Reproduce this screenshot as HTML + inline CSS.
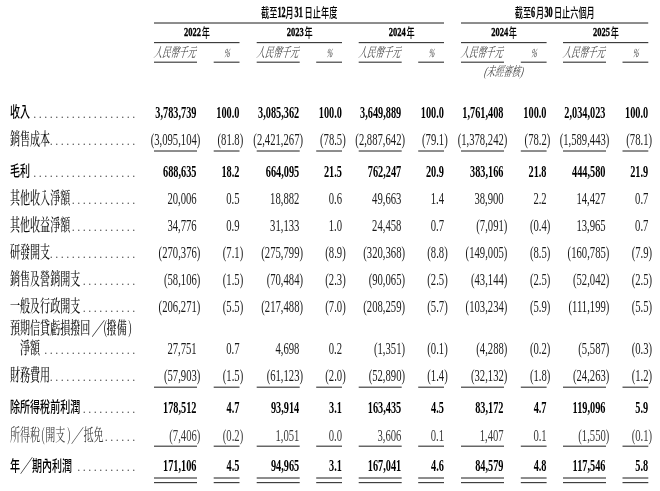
<!DOCTYPE html>
<html><head><meta charset="utf-8"><style>
html,body{margin:0;padding:0;background:#fff;}
body{width:660px;height:491px;overflow:hidden;}
svg{display:block;filter:blur(0.3px);}
text{font-family:"Liberation Serif","Noto Serif CJK TC",serif;fill:#1a1a1a;}
.n{font-size:16.8px;}
.b{font-weight:bold;fill:#000;}
.cb{font-family:"Liberation Serif","Noto Sans CJK TC",sans-serif;font-weight:500;fill:#000;}
.r{font-family:"Noto Serif CJK TC","Liberation Serif",serif;font-weight:500;fill:#111;}
.i{font-style:italic;}
.hb{stroke:#000;stroke-width:0.5px;}
.hy{stroke:#000;stroke-width:0.35px;}
.it{fill:#444;}
.dt{font-family:"Liberation Serif",serif;font-size:12px;letter-spacing:2.5px;fill:#555;}
.hc{font-family:"Noto Sans CJK TC",sans-serif;font-weight:500;fill:#000;}
</style></head><body>
<svg width="660" height="491" viewBox="0 0 660 491" xmlns="http://www.w3.org/2000/svg">
<rect x="154" y="22.43" width="290" height="1.15" fill="#3a3a3a"/>
<rect x="461" y="22.43" width="187.2" height="1.15" fill="#3a3a3a"/>
<rect x="154.0" y="42.02" width="85.5" height="1.15" fill="#3a3a3a"/>
<rect x="256.7" y="42.02" width="85.3" height="1.15" fill="#3a3a3a"/>
<rect x="358.7" y="42.02" width="85.3" height="1.15" fill="#3a3a3a"/>
<rect x="461.0" y="42.02" width="85.6" height="1.15" fill="#3a3a3a"/>
<rect x="563.0" y="42.02" width="85.3" height="1.15" fill="#3a3a3a"/>
<rect x="154.0" y="61.62" width="43.0" height="1.15" fill="#3a3a3a"/>
<rect x="213.7" y="61.62" width="25.8" height="1.15" fill="#3a3a3a"/>
<rect x="256.7" y="61.62" width="43.0" height="1.15" fill="#3a3a3a"/>
<rect x="316.2" y="61.62" width="25.8" height="1.15" fill="#3a3a3a"/>
<rect x="358.7" y="61.62" width="43.0" height="1.15" fill="#3a3a3a"/>
<rect x="418.2" y="61.62" width="25.8" height="1.15" fill="#3a3a3a"/>
<rect x="461.0" y="61.62" width="43.0" height="1.15" fill="#3a3a3a"/>
<rect x="520.8" y="61.62" width="25.8" height="1.15" fill="#3a3a3a"/>
<rect x="563.0" y="61.62" width="43.0" height="1.15" fill="#3a3a3a"/>
<rect x="622.5" y="61.62" width="25.8" height="1.15" fill="#3a3a3a"/>
<rect x="154.0" y="150.43" width="43.0" height="1.15" fill="#3a3a3a"/>
<rect x="213.7" y="150.43" width="25.8" height="1.15" fill="#3a3a3a"/>
<rect x="256.7" y="150.43" width="43.0" height="1.15" fill="#3a3a3a"/>
<rect x="316.2" y="150.43" width="25.8" height="1.15" fill="#3a3a3a"/>
<rect x="358.7" y="150.43" width="43.0" height="1.15" fill="#3a3a3a"/>
<rect x="418.2" y="150.43" width="25.8" height="1.15" fill="#3a3a3a"/>
<rect x="461.0" y="150.43" width="43.0" height="1.15" fill="#3a3a3a"/>
<rect x="520.8" y="150.43" width="25.8" height="1.15" fill="#3a3a3a"/>
<rect x="563.0" y="150.43" width="43.0" height="1.15" fill="#3a3a3a"/>
<rect x="622.5" y="150.43" width="25.8" height="1.15" fill="#3a3a3a"/>
<rect x="154.0" y="386.62" width="43.0" height="1.15" fill="#3a3a3a"/>
<rect x="213.7" y="386.62" width="25.8" height="1.15" fill="#3a3a3a"/>
<rect x="256.7" y="386.62" width="43.0" height="1.15" fill="#3a3a3a"/>
<rect x="316.2" y="386.62" width="25.8" height="1.15" fill="#3a3a3a"/>
<rect x="358.7" y="386.62" width="43.0" height="1.15" fill="#3a3a3a"/>
<rect x="418.2" y="386.62" width="25.8" height="1.15" fill="#3a3a3a"/>
<rect x="461.0" y="386.62" width="43.0" height="1.15" fill="#3a3a3a"/>
<rect x="520.8" y="386.62" width="25.8" height="1.15" fill="#3a3a3a"/>
<rect x="563.0" y="386.62" width="43.0" height="1.15" fill="#3a3a3a"/>
<rect x="622.5" y="386.62" width="25.8" height="1.15" fill="#3a3a3a"/>
<rect x="154.0" y="445.62" width="43.0" height="1.15" fill="#3a3a3a"/>
<rect x="213.7" y="445.62" width="25.8" height="1.15" fill="#3a3a3a"/>
<rect x="256.7" y="445.62" width="43.0" height="1.15" fill="#3a3a3a"/>
<rect x="316.2" y="445.62" width="25.8" height="1.15" fill="#3a3a3a"/>
<rect x="358.7" y="445.62" width="43.0" height="1.15" fill="#3a3a3a"/>
<rect x="418.2" y="445.62" width="25.8" height="1.15" fill="#3a3a3a"/>
<rect x="461.0" y="445.62" width="43.0" height="1.15" fill="#3a3a3a"/>
<rect x="520.8" y="445.62" width="25.8" height="1.15" fill="#3a3a3a"/>
<rect x="563.0" y="445.62" width="43.0" height="1.15" fill="#3a3a3a"/>
<rect x="622.5" y="445.62" width="25.8" height="1.15" fill="#3a3a3a"/>
<rect x="154.0" y="477.43" width="43.0" height="1.15" fill="#3a3a3a"/>
<rect x="213.7" y="477.43" width="25.8" height="1.15" fill="#3a3a3a"/>
<rect x="256.7" y="477.43" width="43.0" height="1.15" fill="#3a3a3a"/>
<rect x="316.2" y="477.43" width="25.8" height="1.15" fill="#3a3a3a"/>
<rect x="358.7" y="477.43" width="43.0" height="1.15" fill="#3a3a3a"/>
<rect x="418.2" y="477.43" width="25.8" height="1.15" fill="#3a3a3a"/>
<rect x="461.0" y="477.43" width="43.0" height="1.15" fill="#3a3a3a"/>
<rect x="520.8" y="477.43" width="25.8" height="1.15" fill="#3a3a3a"/>
<rect x="563.0" y="477.43" width="43.0" height="1.15" fill="#3a3a3a"/>
<rect x="622.5" y="477.43" width="25.8" height="1.15" fill="#3a3a3a"/>
<rect x="154.0" y="482.03" width="43.0" height="1.15" fill="#3a3a3a"/>
<rect x="213.7" y="482.03" width="25.8" height="1.15" fill="#3a3a3a"/>
<rect x="256.7" y="482.03" width="43.0" height="1.15" fill="#3a3a3a"/>
<rect x="316.2" y="482.03" width="25.8" height="1.15" fill="#3a3a3a"/>
<rect x="358.7" y="482.03" width="43.0" height="1.15" fill="#3a3a3a"/>
<rect x="418.2" y="482.03" width="25.8" height="1.15" fill="#3a3a3a"/>
<rect x="461.0" y="482.03" width="43.0" height="1.15" fill="#3a3a3a"/>
<rect x="520.8" y="482.03" width="25.8" height="1.15" fill="#3a3a3a"/>
<rect x="563.0" y="482.03" width="43.0" height="1.15" fill="#3a3a3a"/>
<rect x="622.5" y="482.03" width="25.8" height="1.15" fill="#3a3a3a"/>
<text transform="translate(261.0 0) scale(0.65 1)" y="17.3" class="hc" font-size="12.6">截至</text>
<text transform="translate(277.4 0) scale(0.55 1)" y="17.3" class="b hb" font-size="14.8">12</text>
<text transform="translate(285.6 0) scale(0.65 1)" y="17.3" class="hc" font-size="12.6">月</text>
<text transform="translate(294.6 0) scale(0.55 1)" y="17.3" class="b hb" font-size="14.8">31</text>
<text transform="translate(304.6 0) scale(0.65 1)" y="17.3" class="hc" font-size="12.6">日止年度</text>
<text transform="translate(514.8 0) scale(0.65 1)" y="17.3" class="hc" font-size="12.6">截至</text>
<text transform="translate(531.0 0) scale(0.55 1)" y="17.3" class="b hb" font-size="14.8">6</text>
<text transform="translate(535.9 0) scale(0.65 1)" y="17.3" class="hc" font-size="12.6">月</text>
<text transform="translate(544.4 0) scale(0.55 1)" y="17.3" class="b hb" font-size="14.8">30</text>
<text transform="translate(553.9 0) scale(0.65 1)" y="17.3" class="hc" font-size="12.6">日止六個月</text>
<text transform="translate(184.1 0) scale(0.64 1)" y="36.4" class="b hy" font-size="13.3">2022</text>
<text transform="translate(201.8 0) scale(0.65 1)" y="37.3" class="hc" font-size="12.6">年</text>
<text transform="translate(153.5 56.6) scale(0.635 1) skewX(-26)" class="it" font-size="13.2">人民幣千元</text>
<text transform="translate(226.4 56.5) scale(0.56525 1) skewX(-26)" text-anchor="middle" class="it" font-size="12.6">%</text>
<text transform="translate(286.7 0) scale(0.64 1)" y="36.4" class="b hy" font-size="13.3">2023</text>
<text transform="translate(304.4 0) scale(0.65 1)" y="37.3" class="hc" font-size="12.6">年</text>
<text transform="translate(256.2 56.6) scale(0.635 1) skewX(-26)" class="it" font-size="13.2">人民幣千元</text>
<text transform="translate(328.9 56.5) scale(0.56525 1) skewX(-26)" text-anchor="middle" class="it" font-size="12.6">%</text>
<text transform="translate(388.7 0) scale(0.64 1)" y="36.4" class="b hy" font-size="13.3">2024</text>
<text transform="translate(406.4 0) scale(0.65 1)" y="37.3" class="hc" font-size="12.6">年</text>
<text transform="translate(358.2 56.6) scale(0.635 1) skewX(-26)" class="it" font-size="13.2">人民幣千元</text>
<text transform="translate(430.9 56.5) scale(0.56525 1) skewX(-26)" text-anchor="middle" class="it" font-size="12.6">%</text>
<text transform="translate(491.15 0) scale(0.64 1)" y="36.4" class="b hy" font-size="13.3">2024</text>
<text transform="translate(508.85 0) scale(0.65 1)" y="37.3" class="hc" font-size="12.6">年</text>
<text transform="translate(460.5 56.6) scale(0.635 1) skewX(-26)" class="it" font-size="13.2">人民幣千元</text>
<text transform="translate(533.5 56.5) scale(0.56525 1) skewX(-26)" text-anchor="middle" class="it" font-size="12.6">%</text>
<text transform="translate(593.0 0) scale(0.64 1)" y="36.4" class="b hy" font-size="13.3">2025</text>
<text transform="translate(610.7 0) scale(0.65 1)" y="37.3" class="hc" font-size="12.6">年</text>
<text transform="translate(562.5 56.6) scale(0.635 1) skewX(-26)" class="it" font-size="13.2">人民幣千元</text>
<text transform="translate(635.2 56.5) scale(0.56525 1) skewX(-26)" text-anchor="middle" class="it" font-size="12.6">%</text>
<text transform="translate(503.0 75.6) scale(0.635 1) skewX(-26)" text-anchor="middle" class="it" font-size="13.2">(未經審核)</text>
<text transform="translate(10 0) scale(0.665 1)" y="117.3" class="cb" font-size="15.1">收入</text>
<text class="dt" x="33.26" y="117.8">...................</text>
<text transform="translate(196.5 0) scale(0.613 1)" y="118.0" text-anchor="end" class="n b">3,783,739</text>
<text transform="translate(239.4 0) scale(0.613 1)" y="118.0" text-anchor="end" class="n b">100.0</text>
<text transform="translate(299.2 0) scale(0.613 1)" y="118.0" text-anchor="end" class="n b">3,085,362</text>
<text transform="translate(341.9 0) scale(0.613 1)" y="118.0" text-anchor="end" class="n b">100.0</text>
<text transform="translate(401.2 0) scale(0.613 1)" y="118.0" text-anchor="end" class="n b">3,649,889</text>
<text transform="translate(443.9 0) scale(0.613 1)" y="118.0" text-anchor="end" class="n b">100.0</text>
<text transform="translate(503.5 0) scale(0.613 1)" y="118.0" text-anchor="end" class="n b">1,761,408</text>
<text transform="translate(546.5 0) scale(0.613 1)" y="118.0" text-anchor="end" class="n b">100.0</text>
<text transform="translate(605.5 0) scale(0.613 1)" y="118.0" text-anchor="end" class="n b">2,034,023</text>
<text transform="translate(648.2 0) scale(0.613 1)" y="118.0" text-anchor="end" class="n b">100.0</text>
<text transform="translate(10 0) scale(0.598 1)" y="144.8" class="r" font-size="16.8">銷售成本</text>
<text class="dt" x="49.76" y="144.6">................</text>
<text transform="translate(200.35 0) scale(0.62 1)" y="144.8" text-anchor="end" font-size="17.2">(3,095,104)</text>
<text transform="translate(243.25 0) scale(0.62 1)" y="144.8" text-anchor="end" font-size="17.2">(81.8)</text>
<text transform="translate(303.05 0) scale(0.62 1)" y="144.8" text-anchor="end" font-size="17.2">(2,421,267)</text>
<text transform="translate(345.75 0) scale(0.62 1)" y="144.8" text-anchor="end" font-size="17.2">(78.5)</text>
<text transform="translate(405.05 0) scale(0.62 1)" y="144.8" text-anchor="end" font-size="17.2">(2,887,642)</text>
<text transform="translate(447.75 0) scale(0.62 1)" y="144.8" text-anchor="end" font-size="17.2">(79.1)</text>
<text transform="translate(507.35 0) scale(0.62 1)" y="144.8" text-anchor="end" font-size="17.2">(1,378,242)</text>
<text transform="translate(550.35 0) scale(0.62 1)" y="144.8" text-anchor="end" font-size="17.2">(78.2)</text>
<text transform="translate(609.35 0) scale(0.62 1)" y="144.8" text-anchor="end" font-size="17.2">(1,589,443)</text>
<text transform="translate(652.05 0) scale(0.62 1)" y="144.8" text-anchor="end" font-size="17.2">(78.1)</text>
<text transform="translate(10 0) scale(0.665 1)" y="176.0" class="cb" font-size="15.1">毛利</text>
<text class="dt" x="33.26" y="176.5">...................</text>
<text transform="translate(196.5 0) scale(0.613 1)" y="176.7" text-anchor="end" class="n b">688,635</text>
<text transform="translate(239.4 0) scale(0.613 1)" y="176.7" text-anchor="end" class="n b">18.2</text>
<text transform="translate(299.2 0) scale(0.613 1)" y="176.7" text-anchor="end" class="n b">664,095</text>
<text transform="translate(341.9 0) scale(0.613 1)" y="176.7" text-anchor="end" class="n b">21.5</text>
<text transform="translate(401.2 0) scale(0.613 1)" y="176.7" text-anchor="end" class="n b">762,247</text>
<text transform="translate(443.9 0) scale(0.613 1)" y="176.7" text-anchor="end" class="n b">20.9</text>
<text transform="translate(503.5 0) scale(0.613 1)" y="176.7" text-anchor="end" class="n b">383,166</text>
<text transform="translate(546.5 0) scale(0.613 1)" y="176.7" text-anchor="end" class="n b">21.8</text>
<text transform="translate(605.5 0) scale(0.613 1)" y="176.7" text-anchor="end" class="n b">444,580</text>
<text transform="translate(648.2 0) scale(0.613 1)" y="176.7" text-anchor="end" class="n b">21.9</text>
<text transform="translate(10 0) scale(0.598 1)" y="204.2" class="r" font-size="16.8">其他收入淨額</text>
<text class="dt" x="71.76" y="204.0">............</text>
<text transform="translate(196.7 0) scale(0.62 1)" y="204.2" text-anchor="end" font-size="17.2">20,006</text>
<text transform="translate(239.6 0) scale(0.62 1)" y="204.2" text-anchor="end" font-size="17.2">0.5</text>
<text transform="translate(299.4 0) scale(0.62 1)" y="204.2" text-anchor="end" font-size="17.2">18,882</text>
<text transform="translate(342.1 0) scale(0.62 1)" y="204.2" text-anchor="end" font-size="17.2">0.6</text>
<text transform="translate(401.4 0) scale(0.62 1)" y="204.2" text-anchor="end" font-size="17.2">49,663</text>
<text transform="translate(444.1 0) scale(0.62 1)" y="204.2" text-anchor="end" font-size="17.2">1.4</text>
<text transform="translate(503.7 0) scale(0.62 1)" y="204.2" text-anchor="end" font-size="17.2">38,900</text>
<text transform="translate(546.7 0) scale(0.62 1)" y="204.2" text-anchor="end" font-size="17.2">2.2</text>
<text transform="translate(605.7 0) scale(0.62 1)" y="204.2" text-anchor="end" font-size="17.2">14,427</text>
<text transform="translate(648.4 0) scale(0.62 1)" y="204.2" text-anchor="end" font-size="17.2">0.7</text>
<text transform="translate(10 0) scale(0.598 1)" y="230.8" class="r" font-size="16.8">其他收益淨額</text>
<text class="dt" x="71.76" y="230.6">............</text>
<text transform="translate(196.7 0) scale(0.62 1)" y="230.8" text-anchor="end" font-size="17.2">34,776</text>
<text transform="translate(239.6 0) scale(0.62 1)" y="230.8" text-anchor="end" font-size="17.2">0.9</text>
<text transform="translate(299.4 0) scale(0.62 1)" y="230.8" text-anchor="end" font-size="17.2">31,133</text>
<text transform="translate(342.1 0) scale(0.62 1)" y="230.8" text-anchor="end" font-size="17.2">1.0</text>
<text transform="translate(401.4 0) scale(0.62 1)" y="230.8" text-anchor="end" font-size="17.2">24,458</text>
<text transform="translate(444.1 0) scale(0.62 1)" y="230.8" text-anchor="end" font-size="17.2">0.7</text>
<text transform="translate(507.35 0) scale(0.62 1)" y="230.8" text-anchor="end" font-size="17.2">(7,091)</text>
<text transform="translate(550.35 0) scale(0.62 1)" y="230.8" text-anchor="end" font-size="17.2">(0.4)</text>
<text transform="translate(605.7 0) scale(0.62 1)" y="230.8" text-anchor="end" font-size="17.2">13,965</text>
<text transform="translate(648.4 0) scale(0.62 1)" y="230.8" text-anchor="end" font-size="17.2">0.7</text>
<text transform="translate(10 0) scale(0.598 1)" y="258.3" class="r" font-size="16.8">研發開支</text>
<text class="dt" x="49.76" y="258.1">................</text>
<text transform="translate(200.35 0) scale(0.62 1)" y="258.3" text-anchor="end" font-size="17.2">(270,376)</text>
<text transform="translate(243.25 0) scale(0.62 1)" y="258.3" text-anchor="end" font-size="17.2">(7.1)</text>
<text transform="translate(303.05 0) scale(0.62 1)" y="258.3" text-anchor="end" font-size="17.2">(275,799)</text>
<text transform="translate(345.75 0) scale(0.62 1)" y="258.3" text-anchor="end" font-size="17.2">(8.9)</text>
<text transform="translate(405.05 0) scale(0.62 1)" y="258.3" text-anchor="end" font-size="17.2">(320,368)</text>
<text transform="translate(447.75 0) scale(0.62 1)" y="258.3" text-anchor="end" font-size="17.2">(8.8)</text>
<text transform="translate(507.35 0) scale(0.62 1)" y="258.3" text-anchor="end" font-size="17.2">(149,005)</text>
<text transform="translate(550.35 0) scale(0.62 1)" y="258.3" text-anchor="end" font-size="17.2">(8.5)</text>
<text transform="translate(609.35 0) scale(0.62 1)" y="258.3" text-anchor="end" font-size="17.2">(160,785)</text>
<text transform="translate(652.05 0) scale(0.62 1)" y="258.3" text-anchor="end" font-size="17.2">(7.9)</text>
<text transform="translate(10 0) scale(0.598 1)" y="285.3" class="r" font-size="16.8">銷售及營銷開支</text>
<text class="dt" x="82.76" y="285.1">..........</text>
<text transform="translate(200.35 0) scale(0.62 1)" y="285.3" text-anchor="end" font-size="17.2">(58,106)</text>
<text transform="translate(243.25 0) scale(0.62 1)" y="285.3" text-anchor="end" font-size="17.2">(1.5)</text>
<text transform="translate(303.05 0) scale(0.62 1)" y="285.3" text-anchor="end" font-size="17.2">(70,484)</text>
<text transform="translate(345.75 0) scale(0.62 1)" y="285.3" text-anchor="end" font-size="17.2">(2.3)</text>
<text transform="translate(405.05 0) scale(0.62 1)" y="285.3" text-anchor="end" font-size="17.2">(90,065)</text>
<text transform="translate(447.75 0) scale(0.62 1)" y="285.3" text-anchor="end" font-size="17.2">(2.5)</text>
<text transform="translate(507.35 0) scale(0.62 1)" y="285.3" text-anchor="end" font-size="17.2">(43,144)</text>
<text transform="translate(550.35 0) scale(0.62 1)" y="285.3" text-anchor="end" font-size="17.2">(2.5)</text>
<text transform="translate(609.35 0) scale(0.62 1)" y="285.3" text-anchor="end" font-size="17.2">(52,042)</text>
<text transform="translate(652.05 0) scale(0.62 1)" y="285.3" text-anchor="end" font-size="17.2">(2.5)</text>
<text transform="translate(10 0) scale(0.598 1)" y="312.5" class="r" font-size="16.8">一般及行政開支</text>
<text class="dt" x="82.76" y="312.3">..........</text>
<text transform="translate(200.35 0) scale(0.62 1)" y="312.5" text-anchor="end" font-size="17.2">(206,271)</text>
<text transform="translate(243.25 0) scale(0.62 1)" y="312.5" text-anchor="end" font-size="17.2">(5.5)</text>
<text transform="translate(303.05 0) scale(0.62 1)" y="312.5" text-anchor="end" font-size="17.2">(217,488)</text>
<text transform="translate(345.75 0) scale(0.62 1)" y="312.5" text-anchor="end" font-size="17.2">(7.0)</text>
<text transform="translate(405.05 0) scale(0.62 1)" y="312.5" text-anchor="end" font-size="17.2">(208,259)</text>
<text transform="translate(447.75 0) scale(0.62 1)" y="312.5" text-anchor="end" font-size="17.2">(5.7)</text>
<text transform="translate(507.35 0) scale(0.62 1)" y="312.5" text-anchor="end" font-size="17.2">(103,234)</text>
<text transform="translate(550.35 0) scale(0.62 1)" y="312.5" text-anchor="end" font-size="17.2">(5.9)</text>
<text transform="translate(609.35 0) scale(0.62 1)" y="312.5" text-anchor="end" font-size="17.2">(111,199)</text>
<text transform="translate(652.05 0) scale(0.62 1)" y="312.5" text-anchor="end" font-size="17.2">(5.5)</text>
<text transform="translate(10 0) scale(0.598 1)" y="333.8" class="r" font-size="16.8">預期信貸虧損撥回</text>
<text transform="translate(91.4 0) scale(0.74 1)" y="335.0" class="r" font-size="18.3">／</text>
<text transform="translate(103.2 0) scale(0.598 1)" y="333.8" class="r" font-size="16.8">(</text>
<text transform="translate(106.6 0) scale(0.598 1)" y="333.8" class="r" font-size="16.8">撥備</text>
<text transform="translate(128.2 0) scale(0.598 1)" y="333.8" class="r" font-size="16.8">)</text>
<text transform="translate(20 0) scale(0.598 1)" y="353.7" class="r" font-size="16.8">淨額</text>
<text class="dt" x="44.26" y="353.5">.................</text>
<text transform="translate(196.7 0) scale(0.62 1)" y="353.7" text-anchor="end" font-size="17.2">27,751</text>
<text transform="translate(239.6 0) scale(0.62 1)" y="353.7" text-anchor="end" font-size="17.2">0.7</text>
<text transform="translate(299.4 0) scale(0.62 1)" y="353.7" text-anchor="end" font-size="17.2">4,698</text>
<text transform="translate(342.1 0) scale(0.62 1)" y="353.7" text-anchor="end" font-size="17.2">0.2</text>
<text transform="translate(405.05 0) scale(0.62 1)" y="353.7" text-anchor="end" font-size="17.2">(1,351)</text>
<text transform="translate(447.75 0) scale(0.62 1)" y="353.7" text-anchor="end" font-size="17.2">(0.1)</text>
<text transform="translate(507.35 0) scale(0.62 1)" y="353.7" text-anchor="end" font-size="17.2">(4,288)</text>
<text transform="translate(550.35 0) scale(0.62 1)" y="353.7" text-anchor="end" font-size="17.2">(0.2)</text>
<text transform="translate(609.35 0) scale(0.62 1)" y="353.7" text-anchor="end" font-size="17.2">(5,587)</text>
<text transform="translate(652.05 0) scale(0.62 1)" y="353.7" text-anchor="end" font-size="17.2">(0.3)</text>
<text transform="translate(10 0) scale(0.598 1)" y="381.1" class="r" font-size="16.8">財務費用</text>
<text class="dt" x="49.76" y="380.9">................</text>
<text transform="translate(200.35 0) scale(0.62 1)" y="381.1" text-anchor="end" font-size="17.2">(57,903)</text>
<text transform="translate(243.25 0) scale(0.62 1)" y="381.1" text-anchor="end" font-size="17.2">(1.5)</text>
<text transform="translate(303.05 0) scale(0.62 1)" y="381.1" text-anchor="end" font-size="17.2">(61,123)</text>
<text transform="translate(345.75 0) scale(0.62 1)" y="381.1" text-anchor="end" font-size="17.2">(2.0)</text>
<text transform="translate(405.05 0) scale(0.62 1)" y="381.1" text-anchor="end" font-size="17.2">(52,890)</text>
<text transform="translate(447.75 0) scale(0.62 1)" y="381.1" text-anchor="end" font-size="17.2">(1.4)</text>
<text transform="translate(507.35 0) scale(0.62 1)" y="381.1" text-anchor="end" font-size="17.2">(32,132)</text>
<text transform="translate(550.35 0) scale(0.62 1)" y="381.1" text-anchor="end" font-size="17.2">(1.8)</text>
<text transform="translate(609.35 0) scale(0.62 1)" y="381.1" text-anchor="end" font-size="17.2">(24,263)</text>
<text transform="translate(652.05 0) scale(0.62 1)" y="381.1" text-anchor="end" font-size="17.2">(1.2)</text>
<text transform="translate(10 0) scale(0.665 1)" y="412.3" class="cb" font-size="15.1">除所得稅前利潤</text>
<text class="dt" x="82.76" y="412.8">..........</text>
<text transform="translate(196.5 0) scale(0.613 1)" y="413.0" text-anchor="end" class="n b">178,512</text>
<text transform="translate(239.4 0) scale(0.613 1)" y="413.0" text-anchor="end" class="n b">4.7</text>
<text transform="translate(299.2 0) scale(0.613 1)" y="413.0" text-anchor="end" class="n b">93,914</text>
<text transform="translate(341.9 0) scale(0.613 1)" y="413.0" text-anchor="end" class="n b">3.1</text>
<text transform="translate(401.2 0) scale(0.613 1)" y="413.0" text-anchor="end" class="n b">163,435</text>
<text transform="translate(443.9 0) scale(0.613 1)" y="413.0" text-anchor="end" class="n b">4.5</text>
<text transform="translate(503.5 0) scale(0.613 1)" y="413.0" text-anchor="end" class="n b">83,172</text>
<text transform="translate(546.5 0) scale(0.613 1)" y="413.0" text-anchor="end" class="n b">4.7</text>
<text transform="translate(605.5 0) scale(0.613 1)" y="413.0" text-anchor="end" class="n b">119,096</text>
<text transform="translate(648.2 0) scale(0.613 1)" y="413.0" text-anchor="end" class="n b">5.9</text>
<text transform="translate(10 0) scale(0.598 1)" y="440.8" class="r" font-size="16.8" style="fill:#3c3c3c;font-weight:400">所得稅</text>
<text transform="translate(41.0 0) scale(0.598 1)" y="440.8" class="r" font-size="16.8" style="fill:#3c3c3c;font-weight:400">(</text>
<text transform="translate(45.3 0) scale(0.598 1)" y="440.8" class="r" font-size="16.8" style="fill:#3c3c3c;font-weight:400">開支</text>
<text transform="translate(67.2 0) scale(0.598 1)" y="440.8" class="r" font-size="16.8" style="fill:#3c3c3c;font-weight:400">)</text>
<text transform="translate(71.0 0) scale(0.71 1)" y="442.0" class="r" font-size="18.3" style="fill:#3c3c3c;font-weight:400">／</text>
<text transform="translate(83.5 0) scale(0.598 1)" y="440.8" class="r" font-size="16.8" style="fill:#3c3c3c;font-weight:400">抵免</text>
<text class="dt" x="104.76" y="440.6">......</text>
<text transform="translate(200.35 0) scale(0.62 1)" y="440.8" text-anchor="end" font-size="17.2" style="fill:#3a3a3a">(7,406)</text>
<text transform="translate(243.25 0) scale(0.62 1)" y="440.8" text-anchor="end" font-size="17.2" style="fill:#3a3a3a">(0.2)</text>
<text transform="translate(299.4 0) scale(0.62 1)" y="440.8" text-anchor="end" font-size="17.2" style="fill:#3a3a3a">1,051</text>
<text transform="translate(342.1 0) scale(0.62 1)" y="440.8" text-anchor="end" font-size="17.2" style="fill:#3a3a3a">0.0</text>
<text transform="translate(401.4 0) scale(0.62 1)" y="440.8" text-anchor="end" font-size="17.2" style="fill:#3a3a3a">3,606</text>
<text transform="translate(444.1 0) scale(0.62 1)" y="440.8" text-anchor="end" font-size="17.2" style="fill:#3a3a3a">0.1</text>
<text transform="translate(503.7 0) scale(0.62 1)" y="440.8" text-anchor="end" font-size="17.2" style="fill:#3a3a3a">1,407</text>
<text transform="translate(546.7 0) scale(0.62 1)" y="440.8" text-anchor="end" font-size="17.2" style="fill:#3a3a3a">0.1</text>
<text transform="translate(609.35 0) scale(0.62 1)" y="440.8" text-anchor="end" font-size="17.2" style="fill:#3a3a3a">(1,550)</text>
<text transform="translate(652.05 0) scale(0.62 1)" y="440.8" text-anchor="end" font-size="17.2" style="fill:#3a3a3a">(0.1)</text>
<text transform="translate(10 0) scale(0.665 1)" y="470.6" class="cb" font-size="15.1">年</text>
<text transform="translate(19.9 0) scale(0.71 1)" y="472.5" class="r" font-size="18.3">／</text>
<text transform="translate(32.0 0) scale(0.665 1)" y="470.6" class="cb" font-size="15.1">期內利潤</text>
<text class="dt" x="77.26" y="471.1">...........</text>
<text transform="translate(196.5 0) scale(0.613 1)" y="471.3" text-anchor="end" class="n b">171,106</text>
<text transform="translate(239.4 0) scale(0.613 1)" y="471.3" text-anchor="end" class="n b">4.5</text>
<text transform="translate(299.2 0) scale(0.613 1)" y="471.3" text-anchor="end" class="n b">94,965</text>
<text transform="translate(341.9 0) scale(0.613 1)" y="471.3" text-anchor="end" class="n b">3.1</text>
<text transform="translate(401.2 0) scale(0.613 1)" y="471.3" text-anchor="end" class="n b">167,041</text>
<text transform="translate(443.9 0) scale(0.613 1)" y="471.3" text-anchor="end" class="n b">4.6</text>
<text transform="translate(503.5 0) scale(0.613 1)" y="471.3" text-anchor="end" class="n b">84,579</text>
<text transform="translate(546.5 0) scale(0.613 1)" y="471.3" text-anchor="end" class="n b">4.8</text>
<text transform="translate(605.5 0) scale(0.613 1)" y="471.3" text-anchor="end" class="n b">117,546</text>
<text transform="translate(648.2 0) scale(0.613 1)" y="471.3" text-anchor="end" class="n b">5.8</text>
</svg>
</body></html>
